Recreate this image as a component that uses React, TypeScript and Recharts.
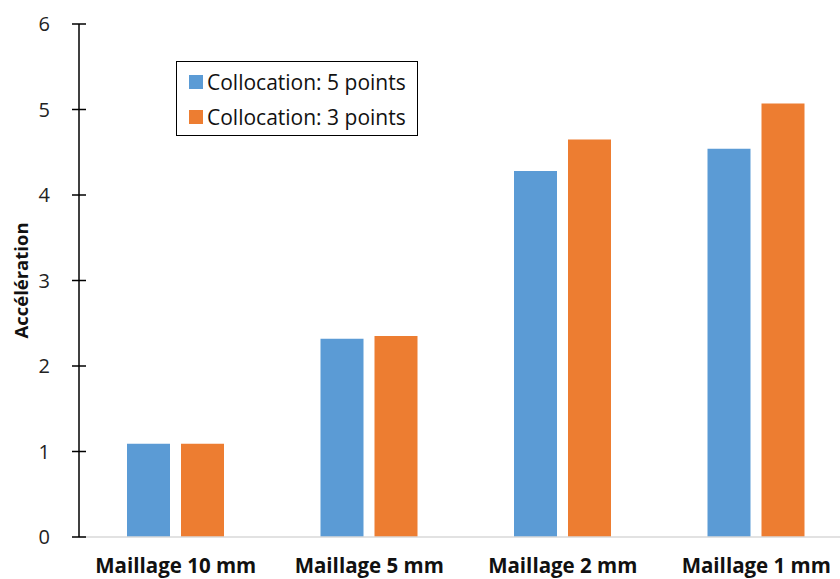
import React from 'react';
import { BarChart, Bar, XAxis, YAxis, Label } from 'recharts';

// values
const categories = ['Maillage 10 mm', 'Maillage 5 mm', 'Maillage 2 mm', 'Maillage 1 mm'];
const fivePoints = [1.09, 2.32, 4.28, 4.54];
const threePoints = [1.09, 2.35, 4.65, 5.07];
const yTicks = [0, 1, 2, 3, 4, 5, 6];

const seriesNames = ['Collocation: 5 points', 'Collocation: 3 points'];
const BLUE = '#5B9BD5';
const ORANGE = '#ED7D31';
const FONT = '"Open Sans", "Liberation Sans", sans-serif';

const data = categories.map((name, i) => ({
  name,
  five: fivePoints[i],
  three: threePoints[i],
}));

const TICK_SIZE = 7;
const TICK_MARGIN = 22;

const YTick = ({ x, y, payload }: any) => {
  const axisX = x + TICK_SIZE + TICK_MARGIN;
  return (
    <g>
      <line x1={axisX - 7} x2={axisX + 7} y1={y} y2={y} stroke="#000" strokeWidth={1.5} />
      <text x={x} y={y} dy={7} textAnchor="end" fontSize={20} fill="#222" fontFamily={FONT}>
        {payload.value}
      </text>
    </g>
  );
};

const XTick = ({ x, y, payload }: any) => (
  <text x={x} y={y} dy={28} textAnchor="middle" fontSize={20.5} fontWeight="bold" fill="#111" fontFamily={FONT}>
    {payload.value}
  </text>
);

const YTitle = ({ viewBox }: any) => {
  const cy = viewBox.y + viewBox.height / 2;
  return (
    <text
      x={20}
      y={cy}
      transform={`rotate(-90, 20, ${cy})`}
      textAnchor="middle"
      dominantBaseline="central"
      fontSize={18.5}
      fontWeight="bold"
      fill="#111"
      fontFamily={FONT}
    >
      Accélération
    </text>
  );
};

const LegendBox = () => (
  <div
    style={{
      position: 'absolute',
      left: 176,
      top: 61,
      border: '1.5px solid #000',
      background: '#fff',
      width: 242,
      height: 75,
      boxSizing: 'border-box',
      fontFamily: FONT,
      fontSize: 21,
      color: '#111',
      paddingLeft: 12,
      paddingTop: 2,
    }}
  >
    {seriesNames.map((n, i) => (
      <div key={n} style={{ display: 'flex', alignItems: 'center', height: 35, whiteSpace: 'nowrap' }}>
        <span style={{ width: 14, height: 14, background: i === 0 ? BLUE : ORANGE, marginRight: 4, display: 'inline-block', flexShrink: 0 }} />
        <span>{n}</span>
      </div>
    ))}
  </div>
);

export default function App() {
  return (
    <div style={{ position: 'absolute', left: 0, top: 0, width: 840, height: 579, overflow: 'hidden', background: '#fff' }}>
      <BarChart
        width={860}
        height={579}
        data={data}
        margin={{ top: 24, right: 7, left: 0, bottom: 0 }}
        barCategoryGap="25%"
        barGap={11}
      >
        <XAxis
          dataKey="name"
          height={42}
          axisLine={{ stroke: '#d9d9d9', strokeWidth: 1.5 }}
          tickLine={false}
          tick={<XTick />}
          interval={0}
        />
        <YAxis
          width={79}
          domain={[0, 6]}
          ticks={yTicks}
          interval={0}
          axisLine={{ stroke: '#000', strokeWidth: 1.5 }}
          tickLine={false}
          tickSize={TICK_SIZE}
          tickMargin={TICK_MARGIN}
          tick={<YTick />}
        >
          <Label content={<YTitle />} />
        </YAxis>
        <Bar dataKey="five" name={seriesNames[0]} fill={BLUE} barSize={43} isAnimationActive={false} />
        <Bar dataKey="three" name={seriesNames[1]} fill={ORANGE} barSize={43} isAnimationActive={false} />
      </BarChart>
      <LegendBox />
    </div>
  );
}
